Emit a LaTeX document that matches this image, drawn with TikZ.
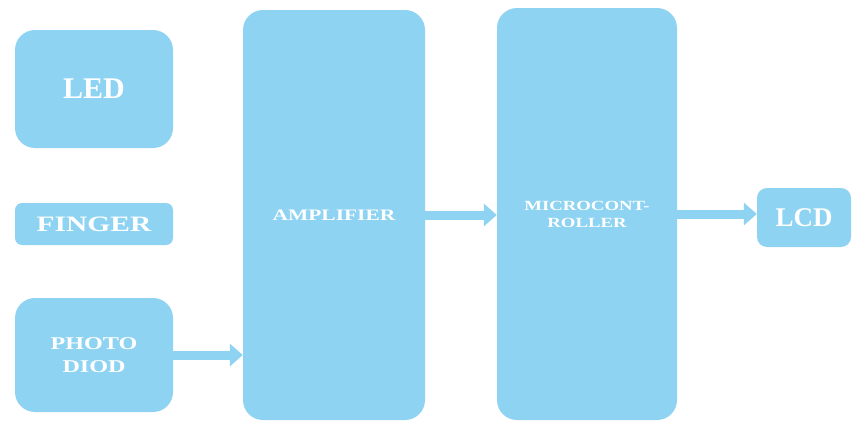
\documentclass[tikz,border=0pt]{standalone}
\usepackage{fontspec}
\setmainfont{Liberation Serif}
\newfontfamily\widefont[FakeStretch=1.34]{Liberation Serif}
\usepackage{tikz}
\usetikzlibrary{positioning}
\usetikzlibrary{arrows.meta}
\definecolor{boxblue}{RGB}{142,211,242}

\begin{document}
\begin{tikzpicture}[x=1pt, y=-1pt,
    block/.style={fill=boxblue, rounded corners=20pt, text=white, inner sep=0pt, align=center},
    flow/.style={boxblue, line width=9pt, -{Triangle[length=13pt,width=22pt]}}]
    \useasboundingbox (0,0) rectangle (852,421);

    % Boxes
    \node[block, minimum width=158pt, minimum height=118pt, font=\bfseries\fontsize{30}{34}\selectfont] (led) at (94,89) {LED};
    \node[block, rounded corners=7pt, minimum width=158pt, minimum height=42pt, font=\widefont\bfseries\fontsize{22}{26}\selectfont] (finger) at (94,224) {FINGER};
    \node[block, minimum width=158pt, minimum height=114pt, font=\widefont\bfseries\fontsize{18}{23}\selectfont] (photo) at (94,355) {PHOTO\\DIOD};

    \node[block, minimum width=182pt, minimum height=410pt, font=\widefont\bfseries\fontsize{16}{20}\selectfont] (amp) at (334,215) {AMPLIFIER};
    \node[block, minimum width=180pt, minimum height=412pt, font=\widefont\bfseries\fontsize{14}{17}\selectfont] (micro) at (587,214) {MICROCONT-\\ROLLER};
    \node[block, rounded corners=10pt, minimum width=94pt, minimum height=59pt, font=\bfseries\fontsize{27}{30}\selectfont] (lcd) at (804,217.5) {LCD};

    % Arrows
    \draw[flow] (photo.east) -- (photo.east -| amp.west);
    \draw[flow] (amp.east) -- (amp.east -| micro.west);
    \draw[flow] (micro.east) -- (micro.east -| lcd.west);
\end{tikzpicture}
\end{document}
